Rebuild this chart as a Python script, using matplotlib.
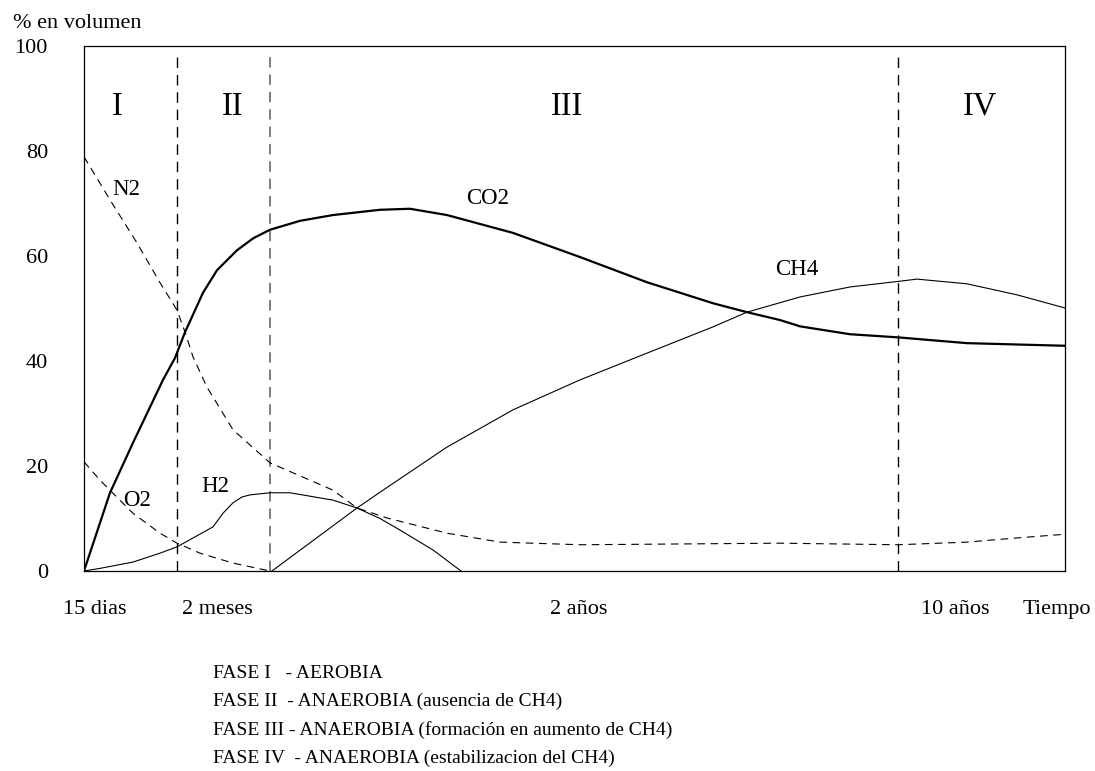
import matplotlib
matplotlib.use("Agg")
import matplotlib.pyplot as plt

plt.rcParams['font.family'] = ['Liberation Serif', 'DejaVu Serif']
plt.rcParams['lines.scale_dashes'] = False

# time axis is schematic (0-100 across the box), values in % volume
co2_x = [0, 2.65, 4.99, 8.05, 9.28, 10.30, 12.13, 13.56, 15.60, 17.27, 18.96, 22.02, 25.38, 30.17,
         33.23, 37.00, 43.73, 50.56, 57.39, 64.12, 67.58, 70.95, 72.99, 78.08, 82.98, 90.01, 100]
co2_y = [0, 14.9, 24.4, 36.4, 40.6, 45.5, 53.0, 57.3, 61.1, 63.4, 65.0, 66.7, 67.8, 68.8,
         69.0, 67.8, 64.4, 59.8, 55.0, 51.0, 49.3, 47.8, 46.6, 45.1, 44.5, 43.4, 42.9]

ch4_x = [19.16, 27.83, 30.17, 37.00, 42.41, 43.73, 50.56, 57.39, 64.12, 67.58, 72.99,
         78.08, 83.18, 84.91, 90.01, 95.11, 100]
ch4_y = [0, 12.0, 15.0, 23.6, 29.3, 30.7, 36.4, 41.5, 46.5, 49.3, 52.2,
         54.1, 55.2, 55.6, 54.7, 52.6, 50.1]

h2_x = [0, 1.63, 4.99, 7.75, 9.48, 13.15, 14.17, 15.19, 16.11, 16.92, 18.96, 21.00, 25.38, 27.83,
        30.17, 32.21, 35.58, 38.43]
h2_y = [0, 0.5, 1.7, 3.4, 4.6, 8.4, 11.0, 13.0, 14.1, 14.5, 14.9, 14.9, 13.5, 12.0,
        10.0, 7.8, 4.0, 0]

n2_x = [0, 2.65, 5.40, 7.75, 9.48, 10.30, 11.11, 12.54, 15.19, 18.96, 25.38, 27.83,
        30.89, 37.00, 42.41, 50.56, 70.95, 82.98, 90.01, 95.11, 100]
n2_y = [78.9, 70.7, 62.5, 54.9, 49.7, 45.5, 40.8, 35.0, 26.9, 20.6, 15.4, 12.0,
        10.1, 7.2, 5.5, 5.0, 5.3, 5.0, 5.5, 6.3, 7.0]

o2_x = [0, 1.63, 4.99, 7.75, 9.48, 11.82, 15.19, 18.96]
o2_y = [20.8, 17.3, 11.0, 7.2, 5.3, 3.4, 1.5, 0]

fase_x = [9.48, 18.96, 82.98]
fase_nombres = ['I', 'II', 'III', 'IV']
fase_centro = [3.36, 15.1, 49.2, 91.3]

tiempo_x = [1.1, 13.6, 50.4, 88.8, 99.2]
tiempo_labels = ['15 dias', '2 meses', '2 años', '10 años', 'Tiempo']

leyenda = ['FASE I   - AEROBIA',
           'FASE II  - ANAEROBIA (ausencia de CH4)',
           'FASE III - ANAEROBIA (formación en aumento de CH4)',
           'FASE IV  - ANAEROBIA (estabilizacion del CH4)']

fig = plt.figure(figsize=(10.95, 7.71), dpi=100)
ax = fig.add_axes([84 / 1095, 1 - 571 / 771, 981 / 1095, 525 / 771])

# phase separators
for i, xv in enumerate(fase_x):
    if i == 1:
        ax.plot([xv, xv], [0, 98.3], color='0.45', lw=1.3, dashes=(7.5, 5))
    else:
        ax.plot([xv, xv], [0, 98.3], color='black', lw=1.0, dashes=(7.5, 5))

ax.plot(co2_x, co2_y, color='black', lw=1.6, solid_joinstyle='round')
ax.plot(ch4_x, ch4_y, color='black', lw=0.8, solid_joinstyle='round')
ax.plot(h2_x, h2_y, color='black', lw=0.8, solid_joinstyle='round')
ax.plot(n2_x, n2_y, color='black', lw=0.8, dashes=(5.5, 4))
ax.plot(o2_x, o2_y, color='black', lw=0.8, dashes=(5.5, 4))

# gas labels
ax.text(4.28, 72.6, 'N2', fontsize=16.5, ha='center', va='center')
ax.text(5.4, 13.5, 'O2', fontsize=16.5, ha='center', va='center')
ax.text(13.35, 16.0, 'H2', fontsize=16.5, ha='center', va='center')
ax.text(41.1, 70.9, 'CO2', fontsize=16.5, ha='center', va='center')
ax.text(72.7, 57.5, 'CH4', fontsize=16.5, ha='center', va='center')

for nom, xc in zip(fase_nombres, fase_centro):
    ax.text(xc, 88.5, nom, fontsize=23.5, ha='center', va='center')

ax.set_xlim(0, 100)
ax.set_ylim(0, 100)
ax.set_yticks([0, 20, 40, 60, 80, 100])
ax.set_xticks(tiempo_x)
ax.set_xticklabels(tiempo_labels)
ax.tick_params(axis='y', length=0, pad=26, labelsize=16)
ax.tick_params(axis='x', length=0, pad=21, labelsize=16)
for sp in ax.spines.values():
    sp.set_linewidth(0.9)

fig.text(13 / 1095, 1 - 23 / 771, '% en volumen', fontsize=16, ha='left', va='center')

for i, linea in enumerate(leyenda):
    fig.text(213 / 1095, 1 - (673 + 28.5 * i) / 771, linea, fontsize=14,
             ha='left', va='center')

fig.savefig('out.png', dpi=100)
